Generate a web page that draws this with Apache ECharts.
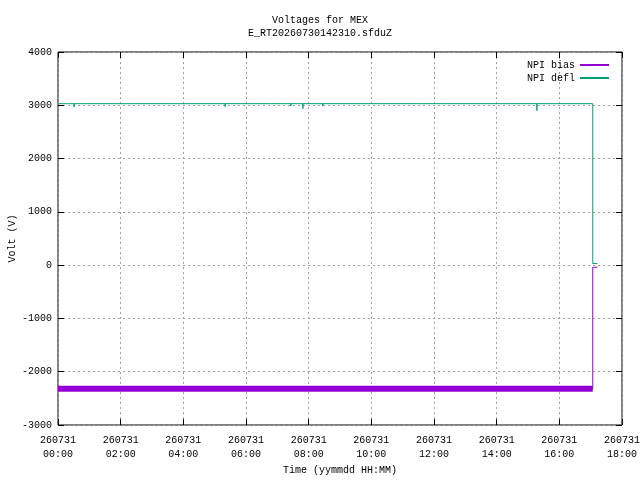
<!DOCTYPE html>
<html>
<head>
<meta charset="utf-8">
<script src="https://cdn.jsdelivr.net/npm/echarts@6/dist/echarts.min.js"></script>
<style>html,body{margin:0;padding:0;background:#fff}#c{width:640px;height:480px}</style>
</head>
<body>
<div id="c"></div>
<script>
// ---- data ----
const titleLines = ['Voltages for MEX', 'E_RT20260730142310.sfduZ'];
const datePrefix = '260731';
const xTickHours = [0, 2, 4, 6, 8, 10, 12, 14, 16, 18];
const yTicks = [-3000, -2000, -1000, 0, 1000, 2000, 3000, 4000];

// NPI bias (purple)
const biasTimes  = ['00:00', '17:04', '17:04', '17:13'];
const biasValues = [-2320, -2320, -40, -40];

// NPI defl (green): steady level with short dips, then drop
const deflLevel = 3030;
const deflDipTimes  = ['00:02','00:06','00:10','00:14','00:18','00:22','00:27','00:31','00:36','00:40','00:44','00:50','00:55','02:29','03:40','05:20','06:47','07:18','07:26','07:38','07:49','08:27','11:36','15:17'];
const deflDipValues = [3000, 3005, 2995, 3005, 2995, 3000, 3000, 2970, 3005, 3000, 3005, 3010, 3010, 3005, 3010, 2975, 3010, 3000, 2985, 3005, 2935, 2985, 3020, 2900];
const deflEndTimes  = ['17:04', '17:04', '17:13'];
const deflEndValues = [3030, 30, 30];

// ---- build ----
const toH = t => { const p = t.split(':'); return +p[0] + (+p[1]) / 60; };
const biasData = biasTimes.map((t, i) => [toH(t), biasValues[i]]);
const bandData = biasData.slice(0, 2);
const deflData = [[0, deflLevel]];
deflDipTimes.forEach((t, i) => {
  const h = toH(t);
  deflData.push([h, deflLevel], [h, deflDipValues[i]], [h, deflLevel]);
});
deflEndTimes.forEach((t, i) => deflData.push([toH(t), deflEndValues[i]]));

const FONT = 'Liberation Mono';
const pad = n => (n < 10 ? '0' : '') + n;
const gridLine = { show: true, lineStyle: { color: '#a0a0a0', type: [2, 3], width: 1 } };
const tick = { inside: true, length: 6, lineStyle: { color: '#000' } };
const noLine = { show: false, onZero: false };

const chart = echarts.init(document.getElementById('c'), null, { renderer: 'canvas' });
chart.setOption({
  animation: false,
  backgroundColor: '#fff',
  textStyle: { fontFamily: FONT },
  title: {
    text: titleLines.join('\n'),
    left: 'center', top: 9,
    textStyle: { fontFamily: FONT, fontSize: 10, fontWeight: 'normal', color: '#000', lineHeight: 13 }
  },
  legend: {
    data: ['NPI bias', 'NPI defl'],
    orient: 'vertical', right: 31, top: 60, padding: 0,
    align: 'right', icon: 'rect', itemWidth: 29, itemHeight: 2, itemGap: 3,
    textStyle: { fontFamily: FONT, fontSize: 10, color: '#000', padding: [0, 0, 0, 0] }
  },
  grid: { left: 58, right: 18, top: 52, bottom: 55, containLabel: false, outerBoundsMode: 'none',
    show: true, borderColor: '#000', borderWidth: 1, backgroundColor: 'transparent' },
  xAxis: [{
    type: 'value', min: 0, max: 18, interval: 2,
    name: 'Time (yymmdd HH:MM)', nameLocation: 'middle', nameGap: 40, nameMoveOverlap: false,
    nameTextStyle: { fontFamily: FONT, fontSize: 10, color: '#000' },
    axisLine: noLine, axisTick: tick,
    axisLabel: { fontFamily: FONT, fontSize: 10, color: '#000', margin: 8, lineHeight: 14,
      formatter: v => datePrefix + '\n' + pad(v) + ':00' },
    splitLine: gridLine
  }, {
    type: 'value', min: 0, max: 18, interval: 2, position: 'top',
    axisLine: noLine, axisLabel: { show: false }, splitLine: { show: false }, axisTick: tick
  }],
  yAxis: [{
    type: 'value', min: yTicks[0], max: yTicks[yTicks.length - 1], interval: 1000,
    name: 'Volt (V)', nameLocation: 'middle', nameGap: 41, nameRotate: 90, nameMoveOverlap: false,
    nameTextStyle: { fontFamily: FONT, fontSize: 10, color: '#000' },
    axisLine: noLine, axisTick: tick,
    axisLabel: { fontFamily: FONT, fontSize: 10, color: '#000', margin: 6, formatter: v => String(v) },
    splitLine: gridLine
  }, {
    type: 'value', min: yTicks[0], max: yTicks[yTicks.length - 1], interval: 1000, position: 'right',
    axisLine: noLine, axisLabel: { show: false }, splitLine: { show: false }, axisTick: tick
  }],
  series: [{
    name: 'NPI bias', type: 'line', data: biasData, showSymbol: false,
    lineStyle: { color: '#9400d3', width: 1 }, itemStyle: { color: '#9400d3' }, z: 3
  }, {
    name: 'NPI bias band', type: 'line', data: bandData, showSymbol: false,
    lineStyle: { color: '#9400d3', width: 6, cap: 'butt' }, itemStyle: { color: '#9400d3' }, z: 3
  }, {
    name: 'NPI defl', type: 'line', data: deflData, showSymbol: false,
    lineStyle: { color: '#009e73', width: 1 }, itemStyle: { color: '#009e73' }, z: 4
  }]
});
</script>
</body>
</html>
